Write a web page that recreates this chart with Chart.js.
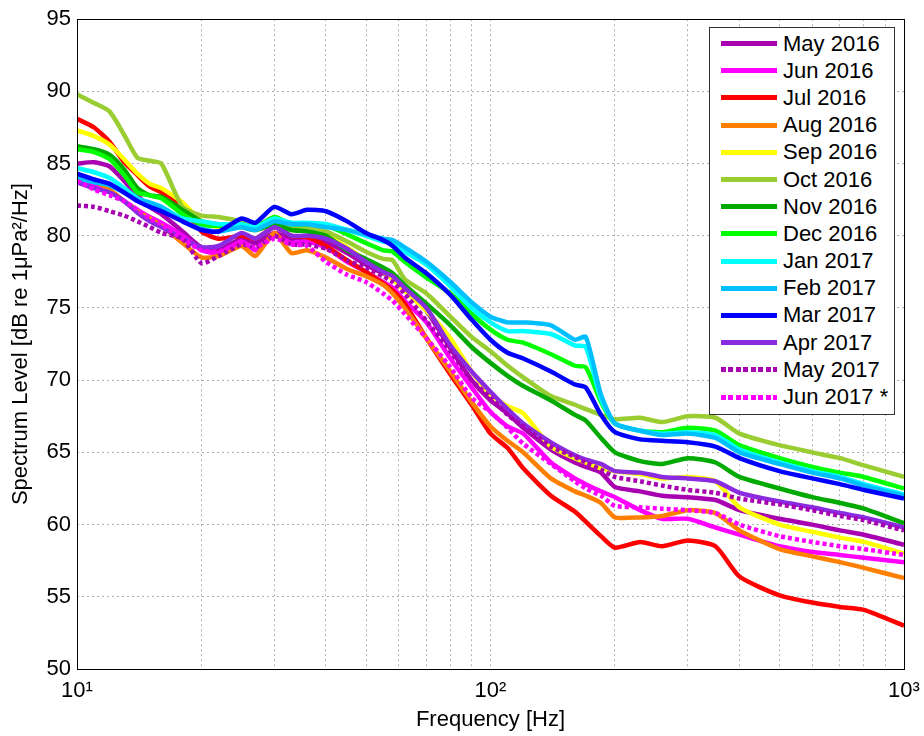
<!DOCTYPE html>
<html>
<head>
<meta charset="utf-8">
<script src="https://cdn.jsdelivr.net/npm/chart.js@4.4.1/dist/chart.umd.min.js"></script>
<style>
    body { margin: 0; background: #fff; font-family: "Liberation Sans", Arial, sans-serif; }
    #wrap { position: relative; width: 924px; height: 736px; }
    #legend {
        position: absolute; left: 709px; top: 27px; width: 186px; height: 388px;
        box-sizing: border-box; border: 1px solid #333; background: #fff; padding-top: 2px;
    }
    .row { display: flex; align-items: center; height: 27.2px; }
    .swatch { width: 56px; height: 5px; margin-left: 11px; margin-right: 6px; flex: none; }
    .row span { font-size: 22px; color: #000; white-space: nowrap; }
</style>
</head>
<body>
<div id="wrap">
    <canvas id="spectrum" width="924" height="736"></canvas>
    <div id="legend"></div>
</div>
<script>
// Frequencies (Hz) at which the monthly spectra were read
const freqs = [10, 11, 12, 13, 14, 15, 16, 18, 20, 22, 25, 27, 30, 33, 36, 40, 45, 50, 55, 58, 62, 70, 80, 90,
    100, 110, 120, 140, 160, 170, 185, 200, 230, 260, 300, 350, 400, 500, 600, 700, 800, 1000];

const monthLabels = ['May 2016', 'Jun 2016', 'Jul 2016', 'Aug 2016', 'Sep 2016', 'Oct 2016', 'Nov 2016',
    'Dec 2016', 'Jan 2017', 'Feb 2017', 'Mar 2017', 'Apr 2017', 'May 2017', 'Jun 2017 *'];

// Spectrum level, dB re 1uPa^2/Hz
const may2016 = [85.0, 85.1, 84.8, 83.8, 82.8, 82.0, 81.5, 80.3, 79.2, 79.0, 79.8, 79.5, 80.2, 79.8, 79.9, 79.6, 78.8, 78.0, 77.4, 77.1, 76.3, 74.8, 72.2, 70.0,
    68.6, 67.7, 66.7, 65.2, 64.3, 64.0, 63.6, 62.6, 62.3, 62.0, 61.9, 61.7, 61.0, 60.4, 60.0, 59.6, 59.3, 58.6];
const jun2016 = [83.9, 83.5, 83.1, 82.4, 81.8, 81.3, 80.9, 80.0, 79.0, 78.8, 79.6, 79.0, 80.0, 79.5, 79.6, 79.2, 78.2, 77.5, 76.8, 76.4, 75.5, 74.0, 71.5, 69.5,
    67.8, 66.8, 66.3, 64.3, 63.2, 62.8, 62.3, 61.9, 61.0, 60.4, 60.4, 59.8, 59.3, 58.5, 58.1, 57.9, 57.7, 57.4];
const jul2016 = [88.1, 87.5, 86.5, 85.1, 84.2, 83.4, 83.0, 81.9, 80.3, 79.8, 80.0, 79.8, 80.6, 80.0, 79.9, 79.3, 78.3, 77.5, 76.7, 76.2, 75.3, 72.9, 70.4, 68.3,
    66.3, 65.3, 63.9, 62.0, 60.9, 60.2, 59.2, 58.4, 58.8, 58.5, 58.9, 58.5, 56.4, 55.1, 54.6, 54.3, 54.1, 53.0];
const aug2016 = [84.3, 83.8, 83.2, 82.4, 81.7, 81.2, 80.7, 79.5, 78.5, 78.6, 79.3, 78.6, 80.2, 78.8, 79.0, 78.5, 77.7, 77.2, 76.6, 76.0, 75.0, 72.9, 70.6, 68.5,
    66.8, 65.8, 65.0, 63.2, 62.3, 62.0, 61.5, 60.5, 60.5, 60.6, 61.0, 60.8, 59.6, 58.3, 57.8, 57.4, 57.0, 56.3];
const sep2016 = [87.3, 86.9, 86.3, 85.3, 84.3, 83.6, 83.3, 82.3, 81.0, 80.6, 80.9, 80.5, 81.3, 80.8, 80.6, 80.1, 79.2, 78.3, 77.5, 77.0, 76.2, 74.8, 72.9, 70.6,
    69.0, 68.2, 67.7, 65.4, 64.6, 64.3, 63.9, 63.7, 63.5, 63.2, 63.3, 63.0, 61.2, 60.0, 59.5, 59.1, 58.8, 58.0];
const oct2016 = [89.8, 89.2, 88.6, 87.0, 85.4, 85.2, 85.0, 82.0, 81.4, 81.3, 81.0, 80.8, 81.0, 80.6, 80.5, 80.3, 79.6, 78.9, 78.4, 78.3, 77.0, 76.0, 74.4, 73.0,
    72.0, 71.0, 70.2, 68.9, 68.3, 68.0, 67.6, 67.3, 67.4, 67.1, 67.5, 67.4, 66.3, 65.5, 65.0, 64.6, 64.1, 63.3];
const nov2016 = [86.2, 86.0, 85.6, 84.6, 83.3, 82.8, 82.7, 81.8, 81.0, 80.8, 80.6, 80.4, 80.8, 80.4, 80.3, 80.0, 79.0, 78.4, 77.8, 77.4, 76.6, 75.3, 73.8, 72.3,
    71.2, 70.3, 69.6, 68.6, 67.6, 67.2, 66.0, 65.0, 64.4, 64.2, 64.6, 64.3, 63.3, 62.5, 61.9, 61.5, 61.1, 60.1];
const dec2016 = [86.0, 85.8, 85.3, 84.2, 83.0, 82.8, 82.6, 81.5, 80.8, 80.7, 80.8, 80.6, 81.3, 80.8, 80.8, 80.7, 80.1, 79.5, 79.0, 78.9, 78.2, 77.1, 76.0, 74.6,
    73.5, 72.8, 72.6, 71.8, 71.0, 70.9, 68.5, 67.0, 66.5, 66.4, 66.7, 66.5, 65.5, 64.6, 64.0, 63.6, 63.3, 62.5];
const jan2017 = [84.7, 84.4, 84.0, 83.3, 82.6, 82.3, 82.0, 81.2, 81.0, 80.8, 80.8, 80.6, 81.2, 80.9, 80.9, 80.8, 80.4, 80.0, 79.6, 79.5, 78.9, 78.0, 76.5, 75.0,
    74.0, 73.4, 73.4, 73.2, 72.4, 72.3, 68.7, 67.0, 66.5, 66.3, 66.4, 66.2, 65.2, 64.3, 63.7, 63.3, 62.8, 62.1];
const feb2017 = [84.0, 83.7, 83.5, 83.0, 82.5, 82.3, 82.0, 81.0, 80.5, 80.3, 80.6, 80.4, 81.0, 80.8, 80.8, 80.6, 80.4, 80.1, 79.8, 79.7, 79.2, 78.2, 76.8, 75.4,
    74.4, 74.0, 74.0, 73.8, 72.8, 73.0, 69.0, 67.0, 66.5, 66.2, 66.3, 66.0, 65.0, 64.2, 63.6, 63.2, 62.7, 62.0];
const mar2017 = [84.3, 83.9, 83.6, 83.0, 82.4, 82.0, 81.7, 81.0, 80.4, 80.3, 81.2, 80.9, 82.0, 81.5, 81.8, 81.7, 81.0, 80.2, 79.7, 79.3, 78.5, 77.4, 75.9, 74.2,
    72.8, 71.9, 71.5, 70.6, 69.7, 69.5, 67.6, 66.4, 65.9, 65.8, 65.7, 65.4, 64.6, 63.7, 63.2, 62.8, 62.4, 61.8];
const apr2017 = [83.7, 83.3, 83.0, 82.4, 81.6, 81.0, 80.6, 79.8, 79.2, 79.3, 80.2, 79.8, 80.6, 80.0, 80.0, 79.8, 79.1, 78.2, 77.5, 77.2, 76.4, 75.0, 72.4, 70.6,
    69.2, 68.0, 67.0, 65.7, 64.8, 64.5, 64.2, 63.7, 63.6, 63.3, 63.2, 63.0, 62.2, 61.6, 61.2, 60.8, 60.5, 59.8];
const may2017 = [82.1, 82.0, 81.7, 81.4, 81.0, 80.6, 80.2, 79.8, 78.1, 78.6, 79.4, 79.2, 80.0, 79.4, 79.4, 79.1, 78.3, 77.8, 77.2, 76.8, 76.0, 74.1, 72.0, 70.0,
    68.8, 67.6, 66.8, 65.4, 64.7, 64.3, 63.8, 63.3, 63.0, 62.7, 62.4, 62.2, 61.8, 61.4, 61.0, 60.6, 60.3, 59.6];
const jun2017 = [83.8, 83.2, 82.8, 82.4, 81.8, 81.2, 80.8, 79.8, 79.0, 78.9, 79.5, 79.2, 79.8, 79.4, 79.3, 78.2, 77.3, 76.8, 76.0, 75.5, 74.6, 72.9, 70.9, 68.8,
    67.8, 66.7, 65.6, 64.2, 63.0, 62.5, 62.0, 61.3, 61.2, 61.1, 61.0, 60.8, 60.0, 59.2, 58.8, 58.5, 58.3, 57.9];

const seriesValues = [may2016, jun2016, jul2016, aug2016, sep2016, oct2016, nov2016,
    dec2016, jan2017, feb2017, mar2017, apr2017, may2017, jun2017];
const seriesColors = ['#A800B0', '#FF00FF', '#FF0000', '#FF8000', '#FFFF00', '#9ACD32', '#00AA00',
    '#00FF00', '#00FFFF', '#00BFFF', '#0000FF', '#8A2BE2', '#A800B0', '#FF00FF'];
const dottedSeries = [false, false, false, false, false, false, false,
    false, false, false, false, false, true, true];

// Axis ticks
const xGridValues = [10, 20, 30, 40, 50, 60, 70, 80, 90, 100, 200, 300, 400, 500, 600, 700, 800, 900, 1000];
const xMajorTicks = [10, 100, 1000];
const xMajorLabels = ['10¹', '10²', '10³'];
const yTicks = [50, 55, 60, 65, 70, 75, 80, 85, 90, 95];

const datasets = seriesValues.map((vals, i) => ({
    label: monthLabels[i],
    data: freqs.map((f, j) => ({ x: f, y: vals[j] })),
    borderColor: seriesColors[i],
    backgroundColor: seriesColors[i],
    borderWidth: 4.5,
    borderDash: dottedSeries[i] ? [4, 3] : [],
    pointRadius: 0,
    tension: 0.2,
    order: -i // later months on top, like the original plot
}));

// Box round the plotting area
const framePlugin = {
    id: 'frame',
    afterDraw(chart) {
        const { ctx, chartArea: a } = chart;
        ctx.save();
        ctx.strokeStyle = '#000';
        ctx.lineWidth = 1;
        ctx.strokeRect(Math.round(a.left) + 0.5, Math.round(a.top) + 0.5,
            Math.round(a.right - a.left), Math.round(a.bottom - a.top));
        ctx.restore();
    }
};

const font = { family: '"Liberation Sans", Arial, sans-serif', size: 22 };

const chart = new Chart(document.getElementById('spectrum').getContext('2d'), {
    type: 'line',
    data: { datasets },
    options: {
        responsive: false,
        animation: false,
        layout: { padding: { top: 17, right: 20, left: 0, bottom: 0 } },
        plugins: { legend: { display: false }, tooltip: { enabled: false } },
        scales: {
            x: {
                type: 'logarithmic',
                min: 10,
                max: 1000,
                afterBuildTicks: (scale) => { scale.ticks = xGridValues.map(v => ({ value: v })); },
                afterFit: (scale) => {
                    scale.height = 67;
                    scale.paddingLeft = 0;
                    scale.paddingRight = 0;
                },
                ticks: {
                    autoSkip: false,
                    maxRotation: 0,
                    padding: 9,
                    color: '#000',
                    font,
                    callback: (v) => {
                        const k = xMajorTicks.indexOf(v);
                        return k >= 0 ? xMajorLabels[k] : '';
                    }
                },
                grid: { color: '#b0b0b0', drawTicks: false },
                border: { display: false, dash: [2, 3] },
                title: { display: true, text: 'Frequency [Hz]', color: '#000', font, padding: { top: 0, bottom: 3 } }
            },
            y: {
                min: 50,
                max: 95,
                afterBuildTicks: (scale) => { scale.ticks = yTicks.map(v => ({ value: v })); },
                afterFit: (scale) => { scale.width = 77; },
                ticks: { padding: 6, color: '#000', font },
                grid: { color: '#b0b0b0', drawTicks: false },
                border: { display: false, dash: [2, 3] },
                title: { display: true, text: 'Spectrum Level [dB re 1μPa²/Hz]', color: '#000', font, padding: { top: 8, bottom: 0 } }
            }
        }
    },
    plugins: [framePlugin]
});

// Legend inside the axes, built from the datasets
const legend = document.getElementById('legend');
chart.data.datasets.forEach((ds, i) => {
    const row = document.createElement('div');
    row.className = 'row';
    const sw = document.createElement('div');
    sw.className = 'swatch';
    sw.style.background = dottedSeries[i]
        ? `repeating-linear-gradient(to right, ${ds.borderColor} 0 5px, transparent 5px 7.5px)`
        : ds.borderColor;
    const txt = document.createElement('span');
    txt.textContent = ds.label;
    row.appendChild(sw);
    row.appendChild(txt);
    legend.appendChild(row);
});
</script>
</body>
</html>
